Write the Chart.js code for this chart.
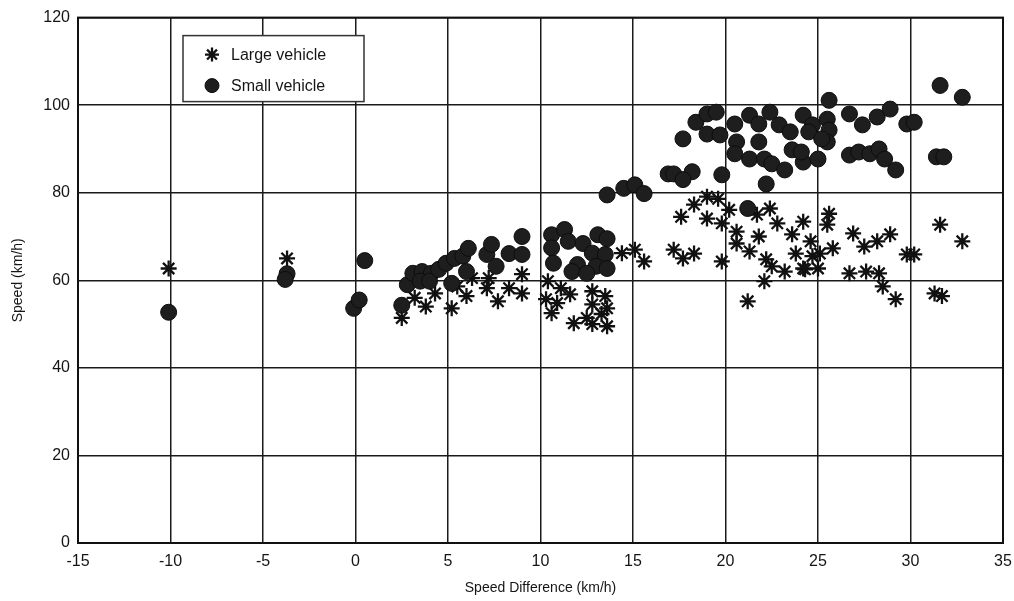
<!DOCTYPE html>
<html>
<head>
<meta charset="utf-8">
<script src="https://cdn.jsdelivr.net/npm/chart.js@4.4.1/dist/chart.umd.min.js"></script>
<style>
  html, body { margin: 0; padding: 0; background: #ffffff; }
  canvas { display: block; }
</style>
</head>
<body>
<canvas id="c" width="1014" height="601"></canvas>
<script>
// ---- Data ----
const seriesNames = ["Large vehicle", "Small vehicle"];
const xTickValues = [-15, -10, -5, 0, 5, 10, 15, 20, 25, 30, 35];
const yTickValues = [0, 20, 40, 60, 80, 100, 120];
const xTitle = "Speed Difference (km/h)";
const yTitle = "Speed (km/h)";

const largeX = [-10.1, -3.7, 2.5, 3.2, 3.8, 4.3, 5.2, 6.0, 5.5, 6.3, 7.1, 7.2, 7.7, 8.3, 9.0, 9.0,
  10.4, 10.3, 10.6, 11.1, 11.6, 10.9, 11.8, 12.8, 13.5, 12.8, 13.6, 12.5, 12.8, 13.6, 13.3,
  14.4, 15.1, 15.6, 17.6, 18.3, 19.0, 19.6, 19.0, 19.8, 20.2, 17.2, 17.7, 18.3, 19.8,
  20.6, 20.6, 21.3, 21.8, 21.7, 22.4, 22.2, 22.5, 22.1, 21.2, 22.8, 23.6, 24.2, 23.8, 23.2,
  24.2, 24.6, 24.7, 25.6, 25.5, 25.8, 25.1, 25.0, 24.3, 26.9, 27.5, 28.2, 28.9, 26.7, 27.6,
  28.3, 28.5, 29.2, 29.8, 30.2, 31.6, 32.8, 31.3, 31.7];
const largeY = [62.7, 65.0, 51.4, 56.0, 54.0, 57.0, 53.6, 56.4, 58.6, 60.5, 58.2, 60.5, 55.2, 58.2, 61.4, 57.0,
  59.8, 55.7, 52.5, 58.2, 56.8, 54.8, 50.2, 57.5, 56.4, 54.5, 53.6, 51.4, 50.0, 49.5, 52.3,
  66.2, 67.0, 64.3, 74.5, 77.3, 79.1, 78.6, 74.1, 73.0, 76.1, 67.0, 65.0, 66.1, 64.3,
  71.1, 68.4, 66.6, 70.0, 75.0, 76.4, 64.8, 63.2, 59.8, 55.2, 73.0, 70.5, 73.4, 66.1, 62.0,
  62.7, 68.9, 65.5, 75.2, 72.7, 67.3, 66.1, 62.7, 62.5, 70.7, 67.7, 68.9, 70.5, 61.6, 62.0,
  61.6, 58.6, 55.7, 65.9, 65.9, 72.7, 68.9, 57.0, 56.4];

const smallX = [-10.1, -3.7, -3.8, -0.1, 0.2, 0.5, 2.5, 2.8, 3.1, 3.6, 4.1, 3.5, 4.0, 4.5, 4.9, 5.2,
  5.35, 5.8, 6.1, 6.0, 7.1, 7.35, 7.6, 8.3, 9.0, 9.0, 10.6, 11.3, 10.6, 11.5, 10.7, 12.3,
  13.1, 13.6, 12.8, 13.5, 12.0, 11.7, 13.0, 13.6, 12.5, 13.6, 14.5, 15.1, 15.6, 16.9, 17.2,
  18.2, 17.7, 17.7, 19.8, 18.4, 19.0, 19.5, 19.0, 19.7, 20.5, 21.3, 21.8, 22.4, 20.6, 20.5,
  21.3, 21.8, 22.1, 22.5, 23.2, 22.2, 22.9, 23.5, 24.2, 24.7, 23.6, 24.2, 24.5, 24.1, 25.0,
  25.6, 25.5, 25.6, 25.5, 25.2, 26.7, 27.4, 28.2, 28.9, 29.8, 30.2, 31.6, 32.8, 31.4, 31.8,
  26.7, 27.2, 27.8, 28.3, 28.6, 29.2, 21.2];
const smallY = [52.7, 61.5, 60.2, 53.6, 55.5, 64.5, 54.3, 59.0, 61.6, 62.0, 61.6, 59.8, 59.8, 62.5, 63.9, 59.3,
  65.0, 65.5, 67.3, 62.0, 65.9, 68.2, 63.2, 66.1, 65.9, 70.0, 70.4, 71.6, 67.4, 68.9, 63.9, 68.4,
  70.4, 69.5, 66.2, 65.9, 63.6, 62.0, 63.2, 62.7, 61.6, 79.5, 81.0, 81.8, 79.8, 84.3, 84.3,
  84.8, 83.0, 92.3, 84.1, 96.1, 98.0, 98.4, 93.4, 93.2, 95.7, 97.7, 95.7, 98.4, 91.6, 88.9,
  87.7, 91.6, 87.7, 86.6, 85.2, 82.0, 95.5, 93.9, 97.7, 95.5, 89.8, 87.0, 93.9, 89.3, 87.7,
  101.1, 96.8, 94.3, 91.6, 92.3, 98.0, 95.5, 97.3, 99.1, 95.7, 96.1, 104.5, 101.8, 88.2, 88.2,
  88.6, 89.3, 88.9, 90.0, 87.7, 85.2, 76.4];

function toPoints(xs, ys) { return xs.map((x, i) => ({ x: x, y: ys[i] })); }

const FONT = "'Liberation Sans', Arial, sans-serif";
const INK = '#151515';

// Custom legend drawn inside the plot area
const insideLegend = {
  id: 'insideLegend',
  afterDraw(chart) {
    const ctx = chart.ctx;
    const a = chart.chartArea;
    const bx = a.left + 105, by = a.top + 18, bw = 181, bh = 66;
    ctx.save();
    ctx.fillStyle = '#ffffff';
    ctx.fillRect(bx, by, bw, bh);
    ctx.strokeStyle = '#333333';
    ctx.lineWidth = 1.5;
    ctx.strokeRect(bx, by, bw, bh);
    const rows = [by + 19, by + 50];
    chart.data.datasets.forEach((ds, i) => {
      const cy = rows[i];
      const cx = bx + 29;
      ctx.fillStyle = ds.backgroundColor;
      ctx.strokeStyle = ds.borderColor;
      ctx.lineWidth = ds.borderWidth;
      Chart.helpers.drawPoint(ctx, {
        pointStyle: ds.pointStyle,
        radius: 7,
        borderWidth: ds.borderWidth
      }, cx, cy);
      ctx.fillStyle = INK;
      ctx.font = '16px ' + FONT;
      ctx.textAlign = 'left';
      ctx.textBaseline = 'middle';
      ctx.fillText(ds.label, bx + 48, cy + 1);
    });
    ctx.restore();
  }
};

const ctx = document.getElementById('c').getContext('2d');
new Chart(ctx, {
  type: 'scatter',
  data: {
    datasets: [
      {
        label: seriesNames[0],
        data: toPoints(largeX, largeY),
        pointStyle: 'star',
        pointRadius: 8,
        borderColor: '#111111',
        backgroundColor: '#111111',
        borderWidth: 2.3,
        order: 1
      },
      {
        label: seriesNames[1],
        data: toPoints(smallX, smallY),
        pointStyle: 'circle',
        pointRadius: 8,
        borderColor: '#0d0d0d',
        backgroundColor: '#1e1e1e',
        borderWidth: 1,
        order: 0
      }
    ]
  },
  options: {
    responsive: false,
    animation: false,
    layout: { padding: { top: 15, right: 11, left: 0, bottom: 0 } },
    plugins: {
      legend: { display: false },
      tooltip: { enabled: false }
    },
    scales: {
      x: {
        type: 'linear',
        min: xTickValues[0],
        max: xTickValues[xTickValues.length - 1],
        afterBuildTicks: (axis) => { axis.ticks = xTickValues.map(v => ({ value: v })); },
        afterFit: (axis) => { axis.height = 58; axis.paddingRight = 0; axis.paddingLeft = 0; },
        border: { display: true, color: '#111111', width: 2 },
        grid: { color: '#1a1a1a', lineWidth: 1.5, drawTicks: false },
        ticks: { color: INK, font: { family: FONT, size: 16 }, padding: 9, maxRotation: 0, autoSkip: false },
        title: { display: true, text: xTitle, color: INK, font: { family: FONT, size: 14 }, padding: { top: 1, bottom: 4 } }
      },
      y: {
        type: 'linear',
        min: yTickValues[0],
        max: yTickValues[yTickValues.length - 1],
        afterBuildTicks: (axis) => { axis.ticks = yTickValues.map(v => ({ value: v })); },
        afterFit: (axis) => { axis.width = 78; },
        border: { display: true, color: '#111111', width: 2 },
        grid: { color: '#1a1a1a', lineWidth: 1.5, drawTicks: false },
        ticks: { color: INK, font: { family: FONT, size: 16 }, padding: 8, autoSkip: false },
        title: { display: true, text: yTitle, color: INK, font: { family: FONT, size: 14 }, padding: { top: 10, bottom: 8 } }
      }
    }
  },
  plugins: [
    {
      id: 'frame',
      afterDatasetsDraw(chart) {
        const c = chart.ctx, a = chart.chartArea;
        c.save();
        c.strokeStyle = '#111111';
        c.lineWidth = 2;
        c.strokeRect(a.left, a.top, a.right - a.left, a.bottom - a.top);
        c.restore();
      }
    },
    insideLegend
  ]
});
</script>
</body>
</html>
